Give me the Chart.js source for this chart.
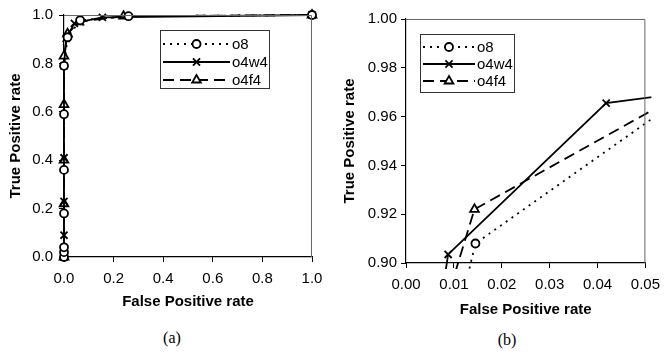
<!DOCTYPE html>
<html><head><meta charset="utf-8">
<script src="https://cdn.jsdelivr.net/npm/chart.js@4.4.1/dist/chart.umd.min.js"></script>
<style>
html,body{margin:0;padding:0;background:#fff;width:668px;height:354px;overflow:hidden}
.wrap{position:absolute;top:0;width:334px}
#w1{left:0;height:315px}
#w2{left:334px;height:323px}
.cap{position:absolute;font:16px "Liberation Serif",serif;color:#000;transform:translate(-50%,-50%);white-space:nowrap}
</style>
</head><body>
<div class="wrap" id="w1"><canvas id="c1"></canvas></div>
<div class="wrap" id="w2"><canvas id="c2"></canvas></div>
<div class="cap" style="left:172px;top:338px">(a)</div>
<div class="cap" style="left:507px;top:340px">(b)</div>
<script>
// ---- data ----
const seriesNames = ["o8", "o4w4", "o4f4"];
const o8_fpr   = [0, 0, 0, 0, 0, 0, 0, 0.0145, 0.065, 0.26, 1];
const o8_tpr   = [0, 0.02, 0.04, 0.18, 0.36, 0.59, 0.79, 0.908, 0.978, 0.995, 1];
const o4w4_fpr = [0, 0, 0, 0, 0, 0.0088, 0.0418, 0.065, 0.155, 1];
const o4w4_tpr = [0, 0.09, 0.23, 0.41, 0.79, 0.9035, 0.9655, 0.9715, 0.99, 1];
const o4f4_fpr = [0, 0, 0, 0, 0, 0.0143, 0.06, 0.24, 1];
const o4f4_tpr = [0, 0.22, 0.40, 0.63, 0.83, 0.922, 0.972, 0.995, 1];
const ticksA = [0, 0.2, 0.4, 0.6, 0.8, 1.0];
const ticksBx = [0, 0.01, 0.02, 0.03, 0.04, 0.05];
const ticksBy = [0.90, 0.92, 0.94, 0.96, 0.98, 1.00];

const FONT = '"Liberation Sans", Arial, sans-serif';
const pts = (xs, ys) => xs.map((x, i) => ({x, y: ys[i]}));

const styles = [
  {pointStyle: 'circle', radius: 4, dash: [2, 5]},
  {pointStyle: 'crossRot', radius: 5, dash: []},
  {pointStyle: 'triangle', radius: 5, dash: [11, 6]}
];
function datasets(clip) {
  const raw = [[o8_fpr, o8_tpr], [o4w4_fpr, o4w4_tpr], [o4f4_fpr, o4f4_tpr]];
  return raw.map((r, i) => ({
    label: seriesNames[i],
    data: pts(r[0], r[1]),
    showLine: true,
    borderColor: '#000',
    backgroundColor: '#fff',
    borderWidth: 1.8,
    borderDash: styles[i].dash,
    pointStyle: styles[i].pointStyle,
    pointRadius: styles[i].radius,
    pointBorderWidth: 1.8,
    pointBorderColor: '#000',
    pointBackgroundColor: '#fff',
    tension: 0,
    clip: clip
  }));
}

// frame + legend plugin
const framePlugin = {
  id: 'frameLegend',
  afterDraw(chart, args, opts) {
    const ctx = chart.ctx, a = chart.chartArea;
    ctx.save();
    ctx.strokeStyle = '#666';
    ctx.lineWidth = 1;
    ctx.beginPath();
    ctx.moveTo(a.left, a.top + 0.5);
    ctx.lineTo(a.right - 0.5, a.top + 0.5);
    ctx.lineTo(a.right - 0.5, a.bottom);
    ctx.stroke();
    // legend
    const L = opts;
    ctx.fillStyle = '#fff';
    ctx.fillRect(L.x, L.y, L.w, L.h);
    ctx.strokeStyle = '#333';
    ctx.strokeRect(L.x + 0.5, L.y + 0.5, L.w, L.h);
    chart.data.datasets.forEach((ds, i) => {
      const yy = L.y + L.rows[i];
      ctx.strokeStyle = '#000';
      ctx.lineWidth = ds.borderWidth;
      ctx.setLineDash(ds.borderDash);
      ctx.beginPath();
      ctx.moveTo(L.x + L.l0, yy);
      ctx.lineTo(L.x + L.l1, yy);
      ctx.stroke();
      ctx.setLineDash([]);
      ctx.fillStyle = '#fff';
      ctx.lineWidth = 1.8;
      Chart.helpers.drawPoint(ctx, {pointStyle: ds.pointStyle, radius: ds.pointRadius, borderWidth: 1.8}, L.x + (L.l0 + L.l1) / 2, yy);
      ctx.fillStyle = '#000';
      ctx.font = L.font + 'px ' + FONT;
      ctx.textBaseline = 'middle';
      ctx.textAlign = 'left';
      ctx.fillText(ds.label, L.x + L.tx, yy + 1);
    });
    ctx.restore();
  }
};

function axis(min, max, tickVals, dec, title, fit, isY, tpad) {
  return {
    type: 'linear', min, max,
    afterBuildTicks: s => { s.ticks = tickVals.map(v => ({value: v})); },
    afterFit: s => { if (isY) s.width = fit; else s.height = fit; },
    ticks: {
      callback: v => Number(v).toFixed(dec),
      color: '#000', font: {family: FONT, size: 15}, padding: tpad, autoSkip: false, maxRotation: 0
    },
    grid: {drawOnChartArea: false, drawTicks: true, tickLength: 5, tickColor: '#000', tickWidth: 1},
    border: {color: '#000', width: 1.2},
    title: {display: true, text: title, color: '#000', font: {family: FONT, size: 15, weight: 'bold'},
            padding: isY ? {top: 7, bottom: 0} : {top: 0, bottom: 4}}
  };
}

function make(id, cfg) {
  return new Chart(document.getElementById(id), {
    type: 'scatter',
    data: {datasets: datasets(cfg.clip)},
    options: {
      responsive: true, maintainAspectRatio: false, animation: false,
      layout: {padding: cfg.pad},
      plugins: {legend: {display: false}, tooltip: {enabled: false}, frameLegend: cfg.legend},
      scales: {
        x: axis(cfg.xmin, cfg.xmax, cfg.xt, cfg.xd, 'False Positive rate', cfg.xfit, false, 8),
        y: axis(cfg.ymin, cfg.ymax, cfg.yt, cfg.yd, 'True Positive rate', cfg.yfit, true, cfg.ypad)
      }
    },
    plugins: [framePlugin]
  });
}

make('c1', {
  xmin: 0, xmax: 1, xt: ticksA, xd: 1, ymin: 0, ymax: 1, yt: ticksA, yd: 1,
  xfit: 58, yfit: 64, ypad: 6, clip: false,
  pad: {left: 0, top: 15, right: 22, bottom: 0},
  legend: {x: 160, y: 30, w: 109, h: 58, rows: [14, 32, 50], l0: 3, l1: 70, tx: 72, font: 15}
});
make('c2', {
  xmin: 0, xmax: 0.05, xt: ticksBx, xd: 2, ymin: 0.9, ymax: 1.0, yt: ticksBy, yd: 2,
  xfit: 60, yfit: 72, ypad: 4, clip: {left: 0, top: 0, right: 6, bottom: 6},
  pad: {left: 0, top: 19, right: 17, bottom: 0},
  legend: {x: 86, y: 34, w: 94, h: 58, rows: [13, 30, 47], l0: 3, l1: 55, tx: 57, font: 15}
});
</script>
</body></html>
